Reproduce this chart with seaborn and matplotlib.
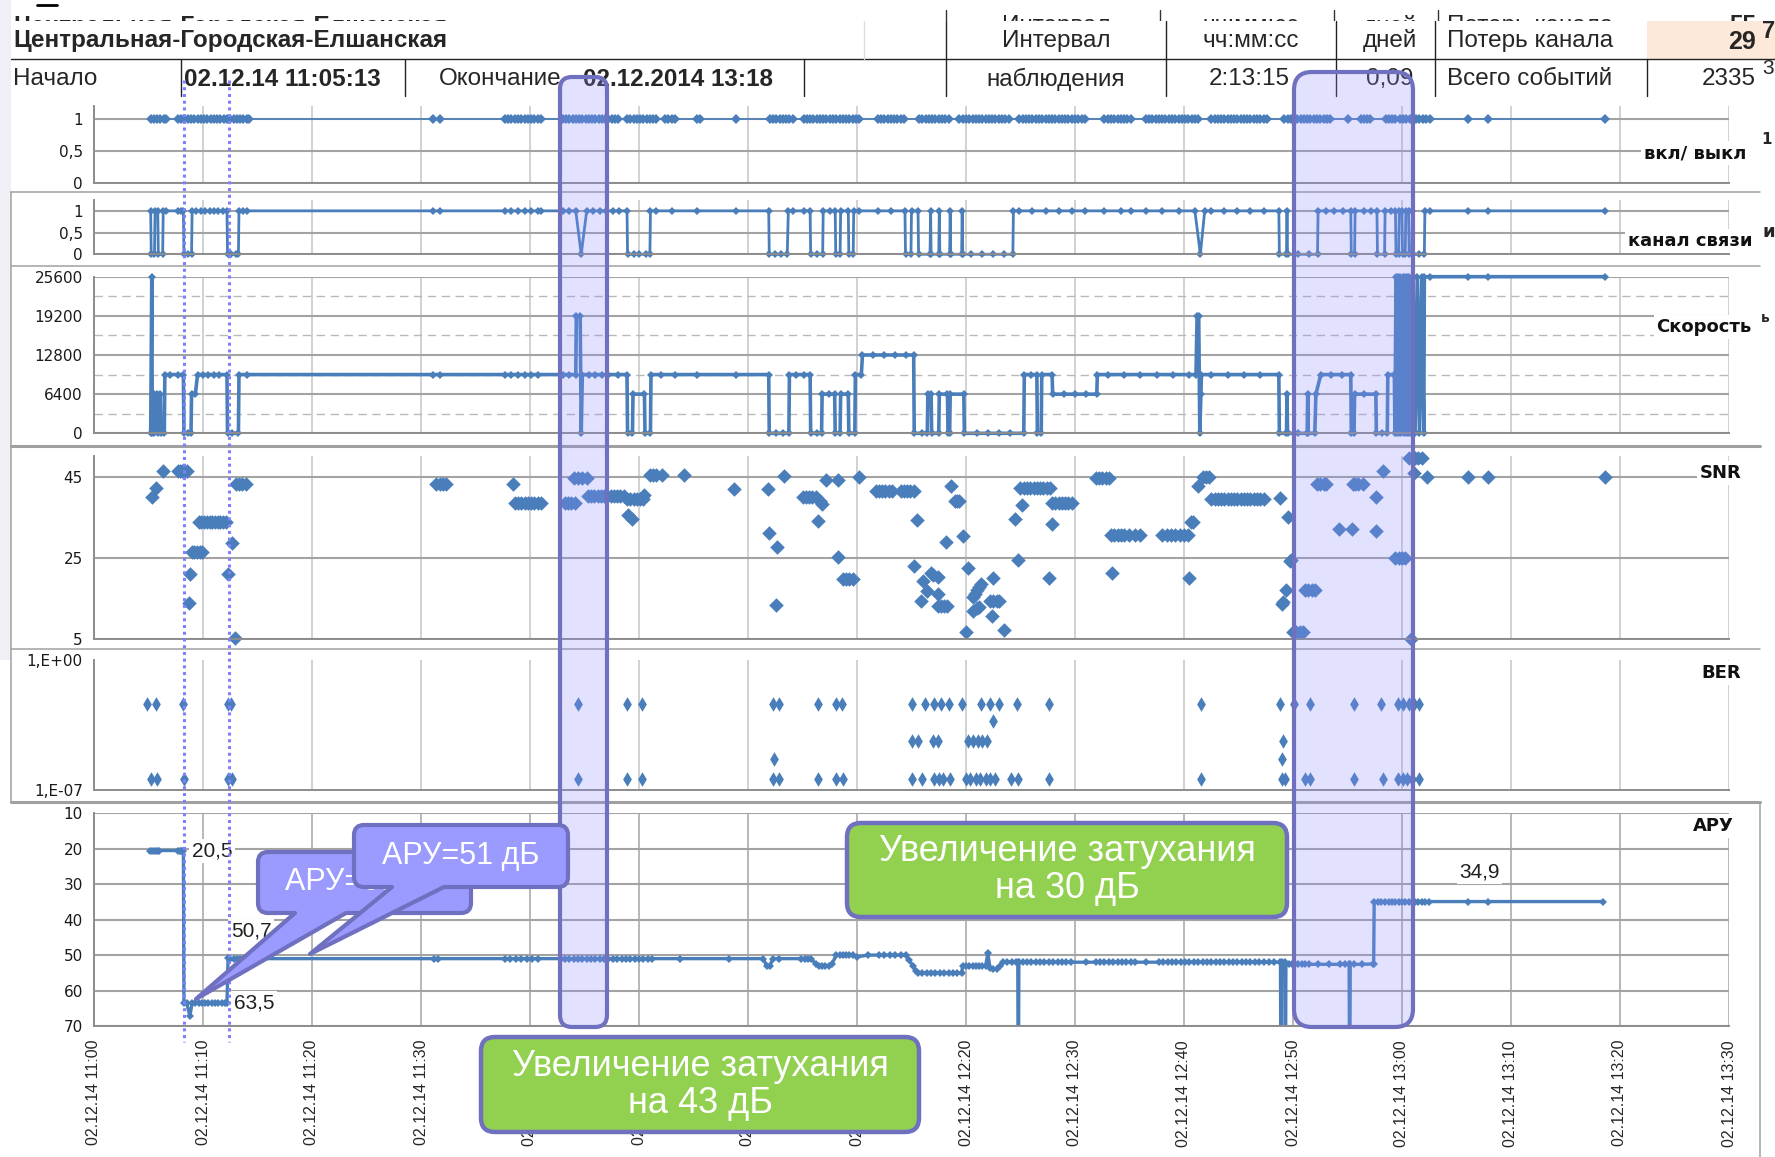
import numpy as np
import pandas as pd
import matplotlib
matplotlib.use("Agg")
import matplotlib.pyplot as plt
import seaborn as sns
from matplotlib.path import Path
from matplotlib.patches import PathPatch, Rectangle
from matplotlib.lines import Line2D
from matplotlib.transforms import Affine2D

# ---------------------------------------------------------------- data
# times are minutes after 02.12.2014 11:00
START = pd.Timestamp("2014-12-02 11:00")

onoff_t = [5.2, 5.5, 5.8, 6.1, 6.4, 6.6,
           7.7, 8.0, 8.3, 8.6, 8.9, 9.2, 9.5, 9.8, 10.1, 10.4, 10.7, 11.0, 11.3, 11.6,
           11.9, 12.2, 12.5, 12.8, 13.1, 13.4, 13.7, 14.0, 14.2,
           31.1, 31.7,
           37.7, 38.0, 38.3, 38.6, 38.9, 39.2, 39.5, 39.8, 40.1, 40.4, 40.7, 41.0,
           43.0, 43.3, 43.6, 43.9, 44.2, 44.5, 44.8, 45.1, 45.4, 45.7, 46.0, 46.3, 46.6,
           46.9, 47.2, 47.5, 47.8, 48.1,
           48.9, 49.2, 49.5, 49.8, 50.1, 50.4, 50.7, 51.0, 51.3, 51.6, 52.4, 52.7, 53.0, 53.3,
           55.3, 55.6, 58.9,
           62.0, 62.3, 62.6, 62.9, 63.2, 63.5, 63.8, 64.1,
           65.1, 65.4, 65.7, 66.0, 66.3, 66.6, 66.9, 67.2, 67.5, 67.8, 68.1, 68.4, 68.7,
           69.0, 69.3, 69.6, 69.9, 70.2,
           71.9, 72.2, 72.5, 72.8, 73.1, 73.4, 73.7, 74.0, 74.3,
           75.7, 76.0, 76.3, 76.6, 76.9, 77.2, 77.5, 77.8, 78.1, 78.4,
           79.4, 79.7, 80.0, 80.3, 80.6, 80.9, 81.2, 81.5, 81.8, 82.1, 82.4, 82.7, 83.0,
           83.3, 83.6, 83.9,
           84.9, 85.2, 85.5, 85.8, 86.1, 86.4, 86.7, 87.0, 87.3, 87.6, 87.9, 88.2, 88.5,
           88.8, 89.1, 89.4, 89.7, 90.0, 90.3, 90.6, 90.9,
           92.7, 93.0, 93.3, 93.6, 93.9, 94.2, 94.5, 94.8, 95.1,
           96.5, 96.8, 97.1, 97.4, 97.7, 98.0, 98.3, 98.6, 98.9, 99.2, 99.5, 99.8, 100.1,
           100.4, 100.7, 101.0, 101.3,
           102.5, 102.8, 103.1, 103.4, 103.7, 104.0, 104.3, 104.6, 104.9, 105.2, 105.5,
           105.8, 106.1, 106.4, 106.7, 107.0, 107.3, 107.6,
           109.2, 109.5, 109.8, 110.1, 110.4, 110.7, 111.0, 111.3, 111.6, 111.9, 112.2,
           112.5, 112.8, 113.1, 113.4,
           115.0, 116.2, 116.5, 116.8, 117.1,
           118.5, 118.8, 119.1, 119.4, 119.8, 120.1, 120.4, 120.7, 121.0, 121.3, 121.6,
           121.9, 122.2, 122.6, 126.1, 127.9, 138.6]
onoff_v = [1] * len(onoff_t)

channel_points = [
    (5.2, 1), (5.25, 0), (5.55, 0), (5.6, 1), (5.85, 1), (5.9, 0), (6.3, 0), (6.35, 1), (6.6, 1),
    (7.7, 1), (8.0, 1), (8.2, 1), (8.25, 0), (8.6, 0), (8.95, 0), (9.0, 1), (9.4, 1), (9.8, 1),
    (10.2, 1), (10.6, 1), (11.0, 1), (11.4, 1), (11.8, 1), (12.2, 1), (12.25, 0), (12.6, 0),
    (13.0, 0), (13.25, 0), (13.3, 1), (13.7, 1), (14.0, 1),
    (31.1, 1), (31.7, 1), (37.7, 1), (38.3, 1), (38.9, 1), (39.5, 1), (40.1, 1), (40.7, 1),
    (41.0, 1), (43.0, 1), (43.6, 1), (44.2, 1), (44.7, 0), (45.2, 1), (45.8, 1), (46.4, 1),
    (47.0, 1), (47.6, 1), (48.2, 1), (48.9, 1), (48.95, 0), (49.5, 0), (50.0, 0), (50.6, 0),
    (51.0, 0), (51.05, 1), (51.6, 1), (53.0, 1), (55.3, 1), (58.9, 1), (61.9, 1), (61.95, 0),
    (62.5, 0), (63.0, 0), (63.6, 0), (63.7, 1), (64.1, 1), (65.1, 1), (65.7, 1), (65.75, 0),
    (66.3, 0), (66.85, 0), (66.9, 1), (67.5, 1), (68.0, 1), (68.05, 0), (68.45, 0), (68.5, 1),
    (69.2, 1), (69.25, 0), (69.65, 0), (69.7, 1), (70.2, 1), (71.9, 1), (73.1, 1), (74.4, 1),
    (74.45, 0), (74.95, 0), (75.0, 1), (75.6, 1), (75.65, 0), (76.7, 0), (76.75, 1), (76.8, 0),
    (77.5, 0), (77.55, 1), (77.6, 0), (78.5, 0), (78.55, 1), (78.6, 0), (79.6, 0), (79.65, 1),
    (79.7, 0), (80.5, 0), (81.5, 0), (82.5, 0), (83.5, 0), (84.3, 0), (84.35, 1), (84.9, 1),
    (86.1, 1), (87.3, 1), (88.5, 1), (89.7, 1), (90.9, 1), (92.7, 1), (94.2, 1), (95.1, 1),
    (96.5, 1), (98.0, 1), (99.5, 1), (101.0, 1), (101.5, 0), (101.9, 1), (102.5, 1), (103.7, 1),
    (104.9, 1), (106.1, 1), (107.3, 1), (108.7, 1), (108.75, 0), (109.4, 0), (109.45, 1),
    (109.5, 0), (110.5, 0), (111.5, 0), (112.25, 0), (112.3, 1), (113.0, 1), (113.8, 1),
    (114.6, 1), (115.3, 1), (115.35, 0), (115.65, 0), (115.7, 1), (116.5, 1), (117.2, 1),
    (117.7, 1), (117.75, 0), (118.4, 0), (118.45, 1), (119.0, 1), (119.4, 1), (119.45, 0),
    (119.7, 0), (119.75, 1), (120.0, 1), (120.05, 0), (120.3, 0), (120.35, 1), (120.6, 1),
    (120.65, 0), (120.9, 0), (120.95, 1), (121.0, 0), (121.6, 0), (122.05, 0), (122.1, 1),
    (122.6, 1), (126.1, 1), (127.9, 1), (138.6, 1)]

speed_points = [
    (5.2, 0), (5.3, 25600), (5.35, 0), (5.5, 6400), (5.55, 0), (5.8, 6400), (5.85, 0),
    (6.1, 6400), (6.15, 0), (6.45, 0), (6.5, 9600), (7.0, 9600), (7.7, 9600), (8.2, 9600),
    (8.25, 0), (8.6, 0), (8.9, 0), (8.95, 6400), (9.3, 6400), (9.5, 9600), (10.0, 9600),
    (10.5, 9600), (11.0, 9600), (11.5, 9600), (12.2, 9600), (12.25, 0), (12.7, 0), (13.25, 0),
    (13.3, 9600), (14.0, 9600), (31.1, 9600), (31.7, 9600), (37.7, 9600), (38.3, 9600),
    (38.9, 9600), (39.5, 9600), (40.1, 9600), (40.7, 9600), (43.0, 9600), (43.6, 9600),
    (44.2, 9600), (44.25, 19200), (44.6, 19200), (44.7, 0), (44.8, 9600), (45.4, 9600),
    (46.0, 9600), (46.6, 9600), (47.2, 9600), (48.1, 9600), (48.9, 9600), (48.95, 0),
    (49.4, 0), (49.45, 6400), (50.5, 6400), (50.55, 0), (51.05, 0), (51.1, 9600), (52.0, 9600),
    (53.3, 9600), (55.3, 9600), (58.9, 9600), (61.9, 9600), (61.95, 0), (62.6, 0), (63.2, 0),
    (63.75, 0), (63.8, 9600), (64.4, 9600), (65.1, 9600), (65.7, 9600), (65.75, 0), (66.3, 0),
    (66.75, 0), (66.8, 6400), (67.4, 6400), (67.95, 6400), (68.0, 0), (68.45, 0), (68.5, 6400),
    (69.2, 6400), (69.25, 0), (69.8, 0), (69.85, 9600), (70.4, 9600), (70.5, 12800),
    (71.5, 12800), (72.5, 12800), (73.5, 12800), (74.5, 12800), (75.2, 12800), (75.25, 0),
    (76.0, 0), (76.45, 0), (76.5, 6400), (76.8, 6400), (76.85, 0), (77.5, 0), (77.55, 6400),
    (78.3, 6400), (78.35, 0), (78.5, 0), (78.55, 6400), (79.8, 6400), (79.85, 0), (81.0, 0),
    (82.0, 0), (83.0, 0), (84.0, 0), (85.3, 0), (85.35, 9600), (86.0, 9600), (86.5, 9600),
    (86.55, 0), (86.9, 0), (86.95, 9600), (87.9, 9600), (87.95, 6400), (89.0, 6400),
    (90.0, 6400), (91.0, 6400), (92.0, 6400), (92.05, 9600), (93.0, 9600), (94.5, 9600),
    (96.0, 9600), (97.5, 9600), (99.0, 9600), (100.5, 9600), (101.1, 9600), (101.2, 19200),
    (101.35, 19200), (101.45, 0), (101.55, 6400), (101.6, 9600), (102.5, 9600), (104.0, 9600),
    (105.5, 9600), (107.0, 9600), (108.7, 9600), (108.75, 0), (109.4, 0), (109.45, 6400),
    (109.5, 0), (110.5, 0), (111.3, 0), (111.35, 6400), (111.4, 0), (112.0, 0), (112.1, 6400),
    (112.55, 9600), (113.5, 9600), (114.5, 9600), (115.3, 9600), (115.35, 0), (115.6, 0),
    (115.65, 6400), (116.5, 6400), (117.6, 6400), (117.65, 0), (118.2, 0), (118.65, 0),
    (118.7, 9600), (119.3, 9600), (119.35, 0), (119.45, 25600), (119.55, 0), (119.65, 25600),
    (119.75, 0), (119.85, 25600), (119.95, 0), (120.05, 25600), (120.15, 0), (120.25, 25600),
    (120.35, 0), (120.45, 25600), (120.55, 0), (120.65, 25600), (120.75, 0), (121.0, 25600),
    (121.2, 0), (121.4, 25600), (121.6, 0), (121.8, 25600), (122.0, 0), (122.05, 25600),
    (122.6, 25600), (126.1, 25600), (127.9, 25600), (138.6, 25600)]

snr_points = [
    (5.36, 40.2), (5.7, 42.3), (6.3, 46.6), (7.7, 46.6), (7.9, 46.6), (8.1, 46.6), (8.3, 46.6),
    (8.5, 46.6), (8.7, 13.9), (8.85, 21.1), (8.95, 26.6), (9.2, 26.6), (9.45, 26.6),
    (9.7, 26.6), (9.95, 26.6), (9.6, 33.9), (9.85, 33.9), (10.1, 33.9), (10.35, 33.9),
    (10.6, 33.9), (10.85, 33.9), (11.1, 33.9), (11.35, 33.9), (11.6, 33.9), (11.85, 33.9),
    (12.1, 33.9), (12.25, 21.1), (12.7, 28.7), (12.9, 5.2), (13.0, 43.3), (13.3, 43.3),
    (13.6, 43.3), (13.9, 43.3), (31.4, 43.3), (31.7, 43.3), (32.0, 43.3), (32.3, 43.3),
    (38.4, 43.3), (38.6, 38.8), (38.9, 38.8), (39.2, 38.8), (39.5, 38.8), (39.8, 38.8),
    (40.1, 38.8), (40.4, 38.8), (40.7, 38.8), (41.0, 38.8), (43.2, 38.8), (43.5, 38.8),
    (43.8, 38.8), (44.1, 38.8), (44.0, 44.8), (44.4, 44.8), (44.8, 44.8), (45.2, 44.8),
    (45.3, 40.5), (45.6, 40.5), (45.9, 40.5), (46.2, 40.5), (46.5, 40.5), (46.8, 40.5),
    (47.1, 40.5), (47.4, 40.5), (47.7, 40.5), (48.0, 40.5), (48.3, 40.5), (48.6, 40.5),
    (48.9, 39.6), (49.2, 39.6), (49.5, 39.6), (49.8, 39.6), (50.1, 39.6), (50.4, 39.6),
    (49.0, 35.7), (49.4, 34.7), (50.5, 40.6), (51.0, 45.7), (51.3, 45.7), (51.6, 45.7),
    (52.1, 45.7), (54.1, 45.7), (58.7, 42.1), (61.8, 42.1), (61.9, 31.2), (62.7, 27.7),
    (62.6, 13.6), (63.3, 45.3), (65.0, 40.2), (65.3, 40.2), (65.6, 40.2), (65.9, 40.2),
    (66.2, 40.2), (66.6, 39.2), (66.8, 38.4), (66.4, 34.3), (67.2, 44.3), (68.3, 44.3),
    (68.3, 25.4), (68.7, 19.8), (69.0, 19.8), (69.3, 19.8), (69.6, 19.8), (70.2, 45.0),
    (71.7, 41.6), (72.0, 41.6), (72.3, 41.6), (72.6, 41.6), (72.9, 41.6), (73.2, 41.6),
    (74.0, 41.6), (74.3, 41.6), (74.6, 41.6), (74.9, 41.6), (75.2, 41.6), (75.5, 34.6),
    (75.2, 23.2), (76.8, 21.3), (77.0, 20.9), (77.4, 20.5), (76.1, 19.4), (76.4, 17.0),
    (75.9, 14.5), (77.4, 16.1), (77.4, 13.2), (77.7, 13.2), (78.0, 13.2), (78.3, 13.2),
    (78.6, 42.9), (79.0, 39.2), (79.2, 39.2), (79.4, 39.2), (78.2, 29.1), (79.7, 30.5),
    (80.2, 22.5), (80.6, 15.5), (80.8, 16.3), (81.0, 17.1), (81.2, 17.9), (81.4, 18.7),
    (80.6, 12.1), (81.0, 12.8), (81.2, 13.1), (80.0, 6.9), (82.2, 14.5), (82.5, 14.5),
    (82.8, 14.5), (83.0, 14.5), (82.5, 20.2), (82.4, 10.8), (83.5, 7.3), (84.5, 34.7),
    (84.8, 24.6), (85.1, 38.2), (85.0, 42.5), (85.3, 42.5), (85.6, 42.5), (85.9, 42.5),
    (86.2, 42.5), (86.5, 42.5), (86.8, 42.5), (87.1, 42.5), (87.4, 42.5), (87.7, 42.5),
    (87.9, 33.6), (87.6, 20.2), (87.9, 38.8), (88.2, 38.8), (88.5, 38.8), (88.8, 38.8),
    (89.1, 38.8), (89.4, 38.8), (89.7, 38.8), (91.9, 44.8), (92.2, 44.8), (92.5, 44.8),
    (92.8, 44.8), (93.1, 44.8), (93.4, 21.5), (93.3, 30.8), (93.6, 30.8), (93.9, 30.8),
    (94.2, 30.8), (94.5, 30.8), (95.0, 30.8), (95.5, 30.8), (96.0, 30.8), (98.0, 30.8),
    (98.4, 30.8), (98.8, 30.8), (99.2, 30.8), (99.6, 30.8), (100.0, 30.8), (100.4, 30.8),
    (100.6, 33.9), (100.8, 33.9), (100.5, 20.2), (101.3, 42.9), (101.7, 45.0), (102.0, 45.2),
    (102.3, 45.2), (102.5, 39.7), (102.8, 39.7), (103.1, 39.7), (103.4, 39.7), (103.7, 39.7),
    (104.0, 39.7), (104.3, 39.7), (104.6, 39.7), (104.9, 39.7), (105.2, 39.7), (105.5, 39.7),
    (105.8, 39.7), (106.1, 39.7), (106.4, 39.7), (106.7, 39.7), (107.0, 39.7), (107.3, 39.7),
    (108.8, 39.8), (109.5, 35.3), (109.7, 24.3), (109.8, 24.5), (109.4, 17.3), (109.0, 13.7),
    (109.1, 14.2), (110.0, 6.9), (110.3, 6.9), (110.6, 6.9), (110.9, 6.9), (111.1, 17.3),
    (111.4, 17.3), (111.7, 17.3), (112.0, 17.3), (112.2, 43.3), (112.5, 43.3), (112.8, 43.3),
    (113.0, 43.3), (114.2, 32.2), (115.4, 32.2), (115.5, 43.3), (115.7, 43.3), (116.0, 43.3),
    (116.4, 43.3), (117.6, 40.1), (117.6, 31.8), (118.3, 46.6), (119.4, 25.2), (119.7, 25.2),
    (120.0, 25.2), (120.3, 25.2), (120.6, 49.7), (120.9, 49.7), (121.2, 49.7), (121.5, 49.7),
    (121.8, 49.7), (121.1, 46.0), (120.8, 5.1), (122.3, 45.0), (126.1, 45.0), (127.9, 45.0),
    (138.6, 45.0)]

# bit error rate: event times for each level
ber_high_t = [4.9, 5.7, 8.2, 12.3, 12.6, 44.4, 48.9, 50.3, 62.3, 62.8, 66.4, 68.1, 68.6,
              75.0, 76.2, 77.1, 77.7, 78.4, 79.6, 81.4, 82.2, 83.0, 84.7, 87.6, 101.6,
              108.8, 110.1, 111.6, 115.6, 118.1, 119.6, 120.1, 120.6, 121.1, 121.6]
ber_low_t = [5.2, 5.8, 8.3, 12.3, 12.7, 44.4, 48.9, 50.3, 62.3, 62.8, 66.4, 68.1, 68.7,
             75.0, 76.0, 77.1, 77.5, 77.9, 78.5, 80.0, 80.4, 80.9, 81.3, 81.8, 82.2, 82.7,
             84.1, 84.8, 87.6, 101.6, 109.0, 109.3, 111.1, 111.6, 115.6, 118.3, 119.6,
             120.1, 120.5, 120.9, 121.6]
ber_mid_points = [(82.5, 4.9e-4), (75.05, 4.2e-5), (75.6, 4.2e-5), (77.0, 4.2e-5),
                  (77.4, 4.2e-5), (80.2, 4.2e-5), (80.6, 4.2e-5), (81.1, 4.2e-5),
                  (81.5, 4.2e-5), (81.9, 4.2e-5), (109.1, 4.2e-5), (62.4, 4.6e-6),
                  (109.0, 4.6e-6)]
BER_HIGH, BER_LOW = 4.3e-3, 3.9e-7

# receiver gain (АРУ), dB; 99 marks readings below the scale
agc_points = [
    (5.1, 20.5), (5.3, 20.5), (5.5, 20.5), (5.7, 20.5), (5.9, 20.5), (6.0, 20.5), (7.7, 20.5),
    (7.9, 20.5), (8.0, 20.5), (8.1, 20.5), (8.2, 20.5),
    (8.25, 63.5), (8.5, 63.5), (8.8, 67.2), (9.0, 63.5), (9.3, 63.5), (9.6, 63.5), (9.9, 63.5),
    (10.2, 63.5), (10.5, 63.5), (10.8, 63.5), (11.1, 63.5), (11.4, 63.5), (11.7, 63.5),
    (12.0, 63.5), (12.2, 63.5),
    (12.3, 50.7), (12.5, 51), (12.8, 51), (13.1, 51), (13.4, 51), (13.7, 51), (31.2, 51),
    (31.6, 51), (37.7, 51), (38.2, 51), (38.7, 51), (39.2, 51), (39.7, 51), (40.2, 51),
    (40.7, 51), (42.8, 51), (43.2, 51), (43.6, 51), (44.0, 51), (44.4, 51), (44.8, 51),
    (45.2, 51), (45.6, 51), (46.0, 51), (46.4, 51), (46.8, 51), (47.2, 51), (47.6, 51),
    (48.0, 51), (48.4, 51), (48.8, 51), (49.2, 51), (49.6, 51), (50.0, 51), (50.4, 51),
    (50.8, 51), (51.2, 51), (53.8, 51), (58.3, 51),
    (61.4, 51), (61.7, 53), (62.0, 53), (62.3, 51), (62.8, 51), (64.9, 51), (65.2, 51),
    (65.5, 51), (65.8, 51), (66.2, 52.5), (66.5, 53), (66.8, 53), (67.1, 53), (67.4, 53),
    (67.7, 52.5), (68.1, 50), (68.4, 50), (68.7, 50), (69.0, 50), (69.3, 50), (69.6, 50),
    (70.0, 50.5), (71.0, 50), (72.0, 50), (72.5, 50), (73.0, 50), (73.5, 50), (74.0, 50),
    (74.5, 50), (74.8, 51.5), (75.1, 53), (75.4, 54.5), (75.6, 55), (76.0, 55), (76.4, 55),
    (76.8, 55), (77.2, 55), (77.6, 55), (78.0, 55), (78.4, 55), (78.8, 55), (79.2, 55),
    (79.6, 55), (79.7, 53), (80.0, 53), (80.3, 53), (80.6, 53), (80.9, 53), (81.2, 53),
    (81.5, 53), (81.8, 53), (82.0, 49.5), (82.2, 53.5), (82.5, 54), (82.8, 54), (83.1, 53),
    (83.4, 52), (83.8, 52), (84.2, 52), (84.6, 52), (84.75, 52), (84.8, 99), (84.85, 52),
    (85.2, 52), (85.6, 52), (86.0, 52), (86.4, 52), (86.8, 52), (87.2, 52), (87.6, 52),
    (88.0, 52), (88.4, 52), (88.8, 52), (89.2, 52), (89.6, 52), (91.0, 52), (91.9, 52),
    (92.3, 52), (92.7, 52), (93.1, 52), (93.5, 52), (93.9, 52), (94.3, 52), (94.7, 52),
    (95.1, 52), (95.5, 52), (96.5, 52), (97.7, 52), (98.1, 52), (98.5, 52), (98.9, 52),
    (99.3, 52), (99.7, 52), (100.1, 52), (100.5, 52), (100.9, 52), (101.3, 52), (101.7, 52),
    (102.1, 52), (102.5, 52), (102.9, 52), (103.3, 52), (103.7, 52), (104.1, 52),
    (104.5, 52), (104.9, 52), (105.3, 52), (105.7, 52), (106.1, 52), (106.5, 52),
    (106.9, 52), (107.3, 52), (107.8, 52), (108.3, 52), (108.85, 52), (108.9, 99),
    (108.95, 52), (109.25, 52), (109.3, 99), (109.35, 52.5), (109.6, 52.6), (109.9, 52.6),
    (110.2, 52.6), (110.5, 52.6), (110.8, 52.6), (111.1, 52.6), (111.5, 52.6), (112.3, 52.6),
    (113.3, 52.6), (114.3, 52.6), (114.8, 52.6), (115.15, 52.6), (115.2, 99), (115.25, 52.6),
    (115.6, 52.6), (116.3, 52.6), (117.3, 52.5), (117.4, 52.5), (117.45, 34.9), (117.8, 34.9),
    (118.1, 34.9), (118.4, 34.9), (118.8, 34.9), (119.1, 34.9), (119.4, 34.9), (119.7, 34.9),
    (120.0, 34.9), (120.3, 34.9), (120.6, 34.9), (120.9, 34.9), (121.2, 34.9), (121.5, 34.9),
    (121.8, 34.9), (122.1, 34.9), (122.5, 34.9), (126.1, 34.9), (127.9, 34.9), (138.4, 34.9)]

agc_labels = [(8.2, 20.5, "20,5"), (12.3, 50.7, "50,7"), (12.2, 63.5, "63,5"),
              (126.1, 34.9, "34,9")]

panel_titles = ["вкл/ выкл", "канал связи", "Скорость", "SNR", "BER", "АРУ"]

# ---------------------------------------------------------------- style
sns.set_style("white")
plt.rcParams["font.family"] = ["DejaVu Sans"]

W, H = 1775, 1157
BLUE = "#4a7ebb"
GRID_H = "#a3a3a3"
GRID_V = "#c9c9c9"
AXIS = "#8c8c8c"
PURPLE = "#7070c0"

fig = plt.figure(figsize=(W / 100, H / 100), dpi=100)
fig.patch.set_facecolor("white")
PX = Affine2D().scale(1, -1).translate(0, H)   # pixel coords, origin top-left

X0, X1 = 94, 1729


def to_time(minutes):
    return START + pd.to_timedelta(np.asarray(minutes, dtype=float), unit="min")


TICKS = to_time(np.arange(0, 151, 10))
T_MIN, T_MAX = TICKS[0], TICKS[-1]


def panel(top, bottom):
    return fig.add_axes([X0 / W, 1 - bottom / H, (X1 - X0) / W, (bottom - top) / H])


def frame(ax, yticks, ylabels, hgrid=True, vcolor=GRID_V):
    ax.set_xlim(T_MIN, T_MAX)
    for side in ("top", "right"):
        ax.spines[side].set_visible(False)
    for side in ("left", "bottom"):
        ax.spines[side].set_color(AXIS)
        ax.spines[side].set_linewidth(1.4)
    ax.set_xticks(TICKS)
    ax.tick_params(axis="x", length=0, labelbottom=False)
    ax.grid(axis="x", which="major", color=vcolor, lw=1.2)
    ax.set_yticks(yticks, labels=ylabels)
    if hgrid:
        ax.grid(axis="y", which="major", color=GRID_H, lw=1.5)
    ax.tick_params(axis="y", which="major", length=6, width=1.2, color=AXIS,
                   labelsize=11, pad=2, labelcolor="#1a1a1a")
    ax.set_axisbelow(True)
    ax.set_xlabel("")
    ax.set_ylabel("")


def draw_line(ax, pts_t, pts_v, lw, ms, clip=True):
    df = pd.DataFrame({"time": to_time(pts_t), "value": pts_v})
    sns.lineplot(data=df, x="time", y="value", ax=ax, estimator=None, sort=False,
                 color=BLUE, linewidth=lw, marker="D", markersize=ms,
                 markeredgewidth=0, clip_on=clip)


def draw_points(ax, pts_t, pts_v, size, marker="D"):
    df = pd.DataFrame({"time": to_time(pts_t), "value": pts_v})
    sns.scatterplot(data=df, x="time", y="value", ax=ax, color=BLUE, marker=marker,
                    s=size, linewidth=0, clip_on=False)


# ---------------------------------------------------------------- panels
ax1 = panel(106, 182.7)
draw_line(ax1, onoff_t, onoff_v, 1.2, 5)
ax1.set_ylim(0, 1.2)
frame(ax1, [0, 0.5, 1], ["0", "0,5", "1"])

ax2 = panel(200, 254.3)
ct, cv = zip(*channel_points)
draw_line(ax2, ct, cv, 2.0, 4.5, clip=False)
ax2.set_ylim(0, 1.25)
frame(ax2, [0, 0.5, 1], ["0", "0,5", "1"])

ax3 = panel(276.7, 433.3)
st, sv = zip(*speed_points)
draw_line(ax3, st, sv, 2.6, 4.5, clip=False)
ax3.set_ylim(0, 25600)
frame(ax3, [0, 6400, 12800, 19200, 25600], ["0", "6400", "12800", "19200", "25600"])
ax3.set_yticks([3200, 9600, 16000, 22400], minor=True)
ax3.grid(axis="y", which="minor", color="#b9b9b9", lw=1.0, ls=(0, (6, 4)))
ax3.tick_params(axis="y", which="minor", length=0)

ax4 = panel(456, 639.3)
nt, nv = zip(*snr_points)
draw_points(ax4, nt, nv, 55)
ax4.set_ylim(5, 50.3)
frame(ax4, [5, 25, 45], ["5", "25", "45"])

ax5 = panel(660, 790)
ax5.set_yscale("log")
bt = list(ber_high_t) + list(ber_low_t) + [p[0] for p in ber_mid_points]
bv = [BER_HIGH] * len(ber_high_t) + [BER_LOW] * len(ber_low_t) + [p[1] for p in ber_mid_points]
draw_points(ax5, bt, bv, 55, marker="d")
ax5.set_ylim(1e-7, 1)
frame(ax5, [1e-7, 1], ["1,E-07", "1,E+00"], hgrid=False)
ax5.minorticks_off()
ax5.tick_params(axis="y", which="minor", length=0)

ax6 = panel(813.3, 1026)
at, av = zip(*agc_points)
draw_line(ax6, at, av, 2.4, 4.5)
ax6.set_ylim(70, 10)
frame(ax6, [10, 20, 30, 40, 50, 60, 70], ["10", "20", "30", "40", "50", "60", "70"],
      vcolor="#ababab")
ax6.tick_params(axis="x", length=4, color=AXIS, labelbottom=True, pad=6)
ax6.set_xticklabels([t.strftime("%d.%m.%y %H:%M") for t in TICKS], rotation=90,
                    fontsize=11.5, family="Liberation Sans", va="top", ha="center")

label_offsets = {"20,5": (6, 0, "left"), "50,7": (2, 19, "left"),
                 "63,5": (5, 0, "left"), "34,9": (8, 21, "center")}
for t, v, s in agc_labels:
    dx, dy, ha = label_offsets[s]
    ax6.annotate(s, xy=(to_time([t])[0], v), xytext=(dx, dy), textcoords="offset points",
                 ha=ha, va="center", fontsize=15, family="Liberation Sans", color="#202020",
                 bbox=dict(boxstyle="square,pad=0.12", fc="white", ec="none"), zorder=5)

# panel names at the right
title_pos = [(1695, 153), (1690, 241), (1704, 327), (1721, 473), (1721, 673), (1713, 826)]
for (x, y), s in zip(title_pos, panel_titles):
    fig.text(x / W, 1 - y / H, s, ha="center", va="center", fontsize=13, fontweight="bold",
             color="#111111", bbox=dict(boxstyle="square,pad=0.15", fc="white", ec="none"),
             zorder=4)


# ---------------------------------------------------------------- sheet decoration
def hline(y, x0, x1, color="#a0a0a0", lw=1.1, z=3):
    fig.add_artist(Line2D([x0, x1], [y, y], transform=PX, color=color, lw=lw, zorder=z))


def vline(x, y0, y1, color="#a0a0a0", lw=1.1, z=3, ls="-"):
    fig.add_artist(Line2D([x, x], [y0, y1], transform=PX, color=color, lw=lw, zorder=z,
                          ls=ls))


def ftext(x, y, s, z=3, **kw):
    fig.text(x / W, 1 - y / H, s, zorder=z, **kw)


fig.add_artist(Rectangle((0, H - 660), 11, 660, transform=None, fc="#eef0f6", ec="none",
                         zorder=-1))

# chart frames
for y, lw in [(192, 1.1), (266, 1.1), (446, 2.2), (649, 1.1), (802, 2.2)]:
    hline(y, 11, 1760, lw=lw)
vline(11, 192, 802)
vline(1760, 802, 1157)

# header: clipped row underneath
HF = "Liberation Sans"
HS = 17.5
ftext(13, 26, "Центральная-Городская-Елшанская", z=1, fontsize=HS, family=HF,
      fontweight="bold", va="center")
for x, s in [(1056, "Интервал"), (1251, "чч:мм:сс"), (1390, "дней")]:
    ftext(x, 26, s, z=1, fontsize=HS, family=HF, ha="center", va="center")
ftext(1447, 26, "Потерь канала", z=1, fontsize=HS, family=HF, va="center")
ftext(1756, 26, "55", z=1, fontsize=HS, family=HF, fontweight="bold", ha="right", va="center")
for x in (946, 1160, 1334, 1438):
    vline(x, 10, 24, color="#333333", lw=1.0, z=1)
fig.add_artist(Rectangle((11, H - 59), 1764, 38, transform=None, fc="white", ec="none",
                         zorder=2))
fig.add_artist(Line2D([37, 57], [H - 5, H - 5], transform=None, color="black", lw=2,
                      zorder=3))

fig.add_artist(Rectangle((1647, H - 59), 128, 38, transform=None, fc="#fde9d9", ec="none",
                         zorder=2))
hline(59, 11, 1775, color="#222222", lw=1.0)
for x in (946, 1166, 1336, 1435):
    vline(x, 21, 96, color="#222222", lw=1.0)
vline(864, 21, 59, color="#dddddd", lw=1.0)
for x in (181, 405, 804, 1647):
    vline(x, 59, 96, color="#222222", lw=1.0)

ftext(13, 41, "Центральная-Городская-Елшанская", fontsize=HS, family=HF,
      fontweight="bold", va="center")
ftext(13, 79, "Начало", fontsize=HS, family=HF, va="center")
ftext(184, 79, "02.12.14 11:05:13", fontsize=HS, family=HF, fontweight="bold", va="center")
ftext(439, 79, "Окончание", fontsize=HS, family=HF, va="center")
ftext(583, 79, "02.12.2014 13:18", fontsize=HS, family=HF, fontweight="bold", va="center")
ftext(1056, 41, "Интервал", fontsize=HS, family=HF, ha="center", va="center")
ftext(1056, 79, "наблюдения", fontsize=HS, family=HF, ha="center", va="center")
ftext(1251, 41, "чч:мм:сс", fontsize=HS, family=HF, ha="center", va="center")
ftext(1249, 79, "2:13:15", fontsize=HS, family=HF, ha="center", va="center")
ftext(1390, 41, "дней", fontsize=HS, family=HF, ha="center", va="center")
ftext(1390, 79, "0,09", fontsize=HS, family=HF, ha="center", va="center")
ftext(1447, 41, "Потерь канала", fontsize=HS, family=HF, va="center")
ftext(1447, 79, "Всего событий", fontsize=HS, family=HF, va="center")
ftext(1756, 42, "29", fontsize=18, family=HF, fontweight="bold", ha="right", va="center")
ftext(1756, 79, "2335", fontsize=HS, family=HF, ha="right", va="center")
ftext(1762, 32, "7", fontsize=17, family=HF, fontweight="bold", va="center")
ftext(1762, 68, "3", fontsize=15, family=HF, va="center")
ftext(1761, 140, "1", fontsize=11, fontweight="bold", va="center")
ftext(1762, 232, "и", fontsize=13, fontweight="bold", va="center")
ftext(1761, 318, "ь", fontsize=10, fontweight="bold", va="center")


# ---------------------------------------------------------------- highlights and callouts
def bubble(x0, y0, x1, y1, r, tail=None):
    M, L, C = Path.MOVETO, Path.LINETO, Path.CURVE3
    v = [(x0 + r, y0), (x1 - r, y0), (x1, y0), (x1, y0 + r), (x1, y1 - r), (x1, y1),
         (x1 - r, y1)]
    c = [M, L, C, C, L, C, C]
    if tail:
        bl, br, tip = tail
        v += [(br, y1), tip, (bl, y1)]
        c += [L, L, L]
    v += [(x0 + r, y1), (x0, y1), (x0, y1 - r), (x0, y0 + r), (x0, y0), (x0 + r, y0),
          (x0 + r, y0)]
    c += [L, C, C, L, C, C, Path.CLOSEPOLY]
    return Path(v, c)


def add_shape(path, fc, ec, lw, z):
    fig.add_artist(PathPatch(path, transform=PX, fc=fc, ec=ec, lw=lw, joinstyle="round",
                             zorder=z))


# periods of increased attenuation
add_shape(bubble(560, 77, 607, 1027, 12), (0.55, 0.55, 1.0, 0.25), PURPLE, 3.0, 15)
add_shape(bubble(1294, 72, 1413, 1027, 18), (0.55, 0.55, 1.0, 0.25), PURPLE, 3.0, 15)

# moments of the gain jump
for x in (183.5, 228.5):
    vline(x, 80, 1042, color="#8080ff", lw=2.2, z=16, ls=(0, (1, 1.2)))

GREEN = "#92d050"
add_shape(bubble(481, 1037, 919, 1132, 14), GREEN, PURPLE, 3.2, 20)
ftext(700, 1085, "Увеличение затухания\nна 43 дБ", z=21, fontsize=26, family=HF,
      color="white", ha="center", va="center", linespacing=1.05)
add_shape(bubble(847, 823, 1287, 917, 14), GREEN, PURPLE, 3.2, 20)
ftext(1067, 870, "Увеличение затухания\nна 30 дБ", z=21, fontsize=26, family=HF,
      color="white", ha="center", va="center", linespacing=1.05)

VIOLET = "#9a9aff"
add_shape(bubble(258, 852, 471, 913, 10, tail=(295, 346, (196, 999))), VIOLET, PURPLE, 3.0, 22)
ftext(364, 882, "АРУ=63 дБ", z=23, fontsize=22, family=HF, color="white", ha="center",
      va="center")
add_shape(bubble(354, 825, 568, 887, 10, tail=(392, 444, (310, 954))), VIOLET, PURPLE, 3.0, 24)
ftext(461, 856, "АРУ=51 дБ", z=25, fontsize=22, family=HF, color="white", ha="center",
      va="center")

fig.savefig("out.png", dpi=100, facecolor="white")
